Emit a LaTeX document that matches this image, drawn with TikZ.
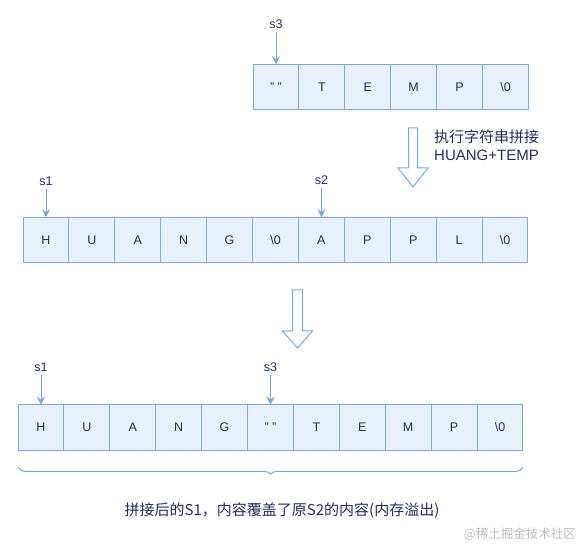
\documentclass[tikz,border=0pt]{standalone}
\usepackage{fontspec}
\setmainfont{Liberation Sans}
\newfontfamily\cjk{Noto Sans CJK SC}
\usetikzlibrary{arrows.meta, positioning, calc, decorations.pathreplacing}
\definecolor{cellblue}{HTML}{E8F0FC}
\definecolor{edgeblue}{HTML}{7EA6E0}
\definecolor{inkblue}{HTML}{262B5C}
\definecolor{markgray}{HTML}{BBBBBB}

\begin{document}
\begin{tikzpicture}[
  x=1pt, y=-1pt,
  cell/.style={draw=edgeblue, fill=cellblue, line width=1pt, minimum width=45.9pt, minimum height=45.5pt, inner sep=0pt, outer sep=0pt, font=\fontsize{12.5}{14}\selectfont, text=inkblue},
  ptr/.style={font=\fontsize{12.5}{14}\selectfont, text=inkblue, inner sep=1pt},
  arr/.style={-{Stealth[length=8pt,width=8pt]}, line width=1pt, edgeblue, shorten <=2pt},
  bigarr/.style={draw=edgeblue, line width=1pt, fill=white, line join=miter},
  note/.style={font=\fontsize{15}{18}\selectfont, text=inkblue, align=left, inner sep=0pt}
]
\useasboundingbox (0,0) rectangle (576,545);

% string TEMP, pointed to by s3
\node[cell] (t1) at (276,87) {" "};
\foreach \ch [count=\i from 2, remember=\i as \j (initially 1)] in {T,E,M,P,\textbackslash 0}
  \node[cell, right=0pt of t\j] (t\i) {\ch};

% HUANG followed by APPL in memory
\node[cell] (m1) at (46,240) {H};
\foreach \ch [count=\i from 2, remember=\i as \j (initially 1)] in {U,A,N,G,\textbackslash 0,A,P,P,L,\textbackslash 0}
  \node[cell, right=0pt of m\j] (m\i) {\ch};

% after concatenation
\node[cell] (b1) at (41,427.5) {H};
\foreach \ch [count=\i from 2, remember=\i as \j (initially 1)] in {U,A,N,G,{" "},T,E,M,P,\textbackslash 0}
  \node[cell, right=0pt of b\j] (b\i) {\ch};

% pointers
\node[ptr, above=34pt of t1] (ps3) {s3};
\node[ptr, above=30pt of m1] (ps1) {s1};
\node[ptr, above=31pt of m7] (ps2) {s2};
\node[ptr, above=32pt of b1] (qs1) {s1};
\node[ptr, above=32pt of b6] (qs3) {s3};
\draw[arr] (ps3) -- (t1);
\draw[arr] (ps1) -- (m1);
\draw[arr] (ps2) -- (m7);
\draw[arr] (qs1) -- (b1);
\draw[arr] (qs3) -- (b6);

% big down arrows
\draw[bigarr] (408.5,128) -- (417.5,128) -- (417.5,168) -- (428,168) -- (413,187)
  -- (398,168) -- (408.5,168) -- cycle;
\draw[bigarr] (292.5,290) -- (302.5,290) -- (302.5,331) -- (312.5,331) -- (297.5,348)
  -- (282.5,331) -- (292.5,331) -- cycle;
\node[note, anchor=north west] (step) at (434,130) {{\cjk 执行字符串拼接}\\HUANG+TEMP};

% result
\draw[edgeblue, line width=1pt, rounded corners=2pt,
  decorate, decoration={brace, mirror, amplitude=8pt}]
  ($(b1.south west)+(0,17)$) -- ($(b11.south east)+(0,17)$) coordinate[midway] (mid);
\node[ptr, font=\cjk\fontsize{15}{17}\selectfont] (res) at (282,511) {拼接后的S1，内容覆盖了原S2的内容(内存溢出)};
\node[font=\cjk\fontsize{12.5}{14}\selectfont, text=markgray, anchor=east, inner sep=0pt] (wm) at (576,534) {@稀土掘金技术社区};
\end{tikzpicture}
\end{document}
